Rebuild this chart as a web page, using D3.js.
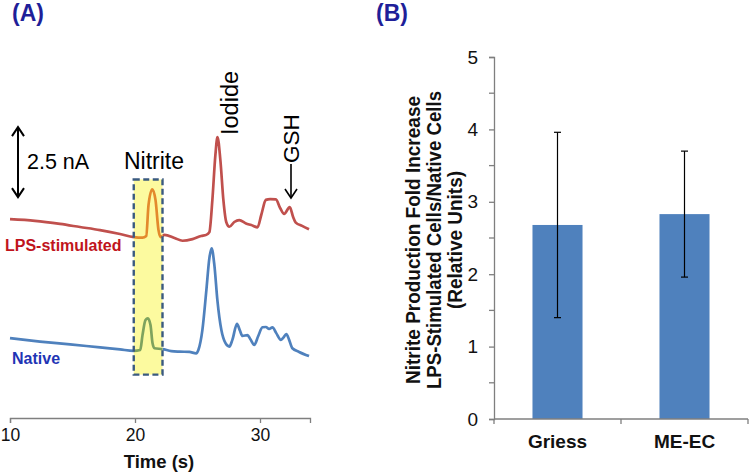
<!DOCTYPE html>
<html>
<head>
<meta charset="utf-8">
<script src="https://cdn.jsdelivr.net/npm/d3@7"></script>
<style>
  html, body { margin: 0; padding: 0; background: #fff; }
  svg { display: block; font-family: "Liberation Sans", Arial, sans-serif; }
</style>
</head>
<body>
<svg id="chart" width="750" height="474"></svg>
<script>
// ---------- Panel A data: chromatogram traces (time s, current nA) ----------
const lpsTime = [10.0, 12.0, 14.0, 15.6, 17.2, 18.8, 19.9, 20.6, 20.9, 21.08, 21.38, 21.64, 21.88, 22.04,
  22.36, 23.16, 23.8, 24.6, 25.29, 25.7, 25.95, 26.19, 26.43, 26.6, 26.83, 27.07, 27.3, 27.55, 27.94,
  28.34, 28.88, 29.3, 29.8, 30.1, 30.47, 30.81, 31.27, 31.61, 31.93, 32.38, 32.65, 32.86, 33.37, 33.92];
const lpsCurrent = [7.10, 7.04, 6.93, 6.82, 6.71, 6.57, 6.46, 6.44, 6.50, 7.60, 8.17, 7.79, 6.71, 6.46,
  6.54, 6.43, 6.33, 6.39, 6.50, 6.54, 6.64, 7.79, 9.39, 10.03, 9.21, 7.79, 7.00, 6.83, 7.00,
  7.07, 6.95, 6.89, 6.81, 7.25, 7.79, 7.82, 7.81, 7.50, 7.29, 7.53, 7.18, 6.98, 6.86, 6.74];

const nativeTime = [10.0, 12.4, 14.8, 17.2, 18.8, 19.9, 20.42, 20.6, 20.84, 21.03, 21.24, 21.4, 21.56,
  22.2, 22.9, 23.56, 24.35, 24.89, 25.07, 25.39, 25.71, 25.95, 26.13, 26.35, 26.59, 26.91, 27.23, 27.55,
  27.79, 28.16, 28.38, 28.6, 29.0, 29.22, 29.54, 29.86, 30.2, 30.47, 30.73, 31.0, 31.29, 31.67, 31.85,
  32.11, 32.33, 32.59, 33.13, 33.92];
const nativeCurrent = [2.85, 2.73, 2.63, 2.52, 2.45, 2.40, 2.43, 2.96, 3.50, 3.56, 3.32, 2.68, 2.49,
  2.46, 2.39, 2.37, 2.36, 2.31, 2.43, 3.14, 4.57, 5.71, 6.06, 5.46, 4.21, 3.14, 2.68, 2.55,
  2.79, 3.36, 3.14, 2.93, 2.96, 2.82, 2.61, 2.93, 3.24, 3.25, 3.18, 3.24, 3.04, 2.79, 2.86,
  3.00, 2.79, 2.49, 2.36, 2.21];

const timeTicks = [10, 20, 30];
const timeDomain = [10, 34];
const currentDomain = [0, 13];
const nitriteWindow = [19.9, 22.2];        // seconds
const nitriteWindowCurrent = [1.55, 8.52]; // nA
const scaleBarCurrent = [7.89, 10.39];     // 2.5 nA scale bar

// ---------- Panel B data ----------
const methods = ["Griess", "ME-EC"];
const foldIncrease = [2.68, 2.83];
const foldError = [1.28, 0.87];
const foldTicks = [0, 1, 2, 3, 4, 5];
const foldMinorTicks = [0.5, 1.5, 2.5, 3.5, 4.5];

const svg = d3.select("#chart");
const FONT = "'Liberation Sans', Arial, sans-serif";

// ================= Panel A =================
const xA = d3.scaleLinear().domain(timeDomain).range([10, 310]);
const yA = d3.scaleLinear().domain(currentDomain).range([418, 54]);

const gA = svg.append("g");

svg.append("text").attr("x", 12).attr("y", 21).text("(A)")
  .attr("font-size", 23).attr("font-weight", "bold").attr("fill", "#1f1f99");

// nitrite highlight box (fill)
const bx0 = xA(nitriteWindow[0]), bx1 = xA(nitriteWindow[1]);
const by0 = yA(nitriteWindowCurrent[1]), by1 = yA(nitriteWindowCurrent[0]);
gA.append("rect").attr("x", bx0).attr("y", by0).attr("width", bx1 - bx0).attr("height", by1 - by0)
  .attr("fill", "#fcfa9f");

const defs = svg.append("defs");
defs.append("clipPath").attr("id", "boxClip").append("rect")
  .attr("x", bx0).attr("y", 0).attr("width", bx1 - bx0).attr("height", 474);
defs.append("clipPath").attr("id", "outClip").append("path")
  .attr("d", `M0,0H${bx0}V474H0Z M${bx1},0H750V474H${bx1}Z`);

const line = d3.line().x(d => xA(d[0])).y(d => yA(d[1])).curve(d3.curveMonotoneX);
const lpsData = lpsTime.map((t, i) => [t, lpsCurrent[i]]);
const nativeData = nativeTime.map((t, i) => [t, nativeCurrent[i]]);

gA.append("path").datum(lpsData).attr("d", line).attr("fill", "none")
  .attr("stroke", "#c0504d").attr("stroke-width", 2.7).attr("clip-path", "url(#outClip)");
gA.append("path").datum(lpsData).attr("d", line).attr("fill", "none")
  .attr("stroke", "#e38a2c").attr("stroke-width", 2.7).attr("clip-path", "url(#boxClip)");
gA.append("path").datum(nativeData).attr("d", line).attr("fill", "none")
  .attr("stroke", "#4f81bd").attr("stroke-width", 2.7).attr("clip-path", "url(#outClip)");
gA.append("path").datum(nativeData).attr("d", line).attr("fill", "none")
  .attr("stroke", "#7ea35e").attr("stroke-width", 2.7).attr("clip-path", "url(#boxClip)");

// dashed border
gA.append("rect").attr("x", bx0).attr("y", by0).attr("width", bx1 - bx0).attr("height", by1 - by0)
  .attr("fill", "none").attr("stroke", "#3a5a80").attr("stroke-width", 2.4).attr("stroke-dasharray", "6,3.5");

// x axis A
const axA = gA.append("g").attr("transform", "translate(0,418)")
  .call(d3.axisBottom(xA).tickValues(timeTicks).tickSize(5).tickPadding(6).tickFormat(d3.format("d")));
axA.select(".domain").attr("stroke", "#7f7f7f").attr("stroke-width", 1.3);
axA.selectAll(".tick line").attr("stroke", "#7f7f7f").attr("stroke-width", 1.3);
axA.selectAll(".tick text").attr("font-size", 17.5).attr("font-family", FONT).attr("fill", "#111");
gA.append("text").attr("x", 159).attr("y", 468).attr("text-anchor", "middle")
  .attr("font-size", 18.5).attr("font-weight", "bold").attr("fill", "#111").text("Time (s)");

// scale bar arrow
function chevron(x, y, dir) { // dir -1 = up, 1 = down
  return `M${x - 6},${y - dir * 9}L${x},${y}L${x + 6},${y - dir * 9}`;
}
const sbx = 18, sbTop = yA(scaleBarCurrent[1]), sbBot = yA(scaleBarCurrent[0]);
gA.append("line").attr("x1", sbx).attr("x2", sbx).attr("y1", sbTop).attr("y2", sbBot)
  .attr("stroke", "#000").attr("stroke-width", 2);
gA.append("path").attr("d", chevron(sbx, sbTop, -1) + chevron(sbx, sbBot, 1))
  .attr("fill", "none").attr("stroke", "#000").attr("stroke-width", 2);
gA.append("text").attr("x", 27).attr("y", 169).attr("font-size", 21.5).attr("fill", "#000").text("2.5 nA");

// annotations
gA.append("text").attr("x", 154).attr("y", 169).attr("text-anchor", "middle")
  .attr("font-size", 23).attr("fill", "#000").text("Nitrite");
gA.append("text").attr("transform", "translate(238,135) rotate(-90)")
  .attr("font-size", 23.5).attr("fill", "#000").text("Iodide");
gA.append("text").attr("transform", "translate(299,163) rotate(-90)")
  .attr("font-size", 22.5).attr("fill", "#000").text("GSH");
gA.append("line").attr("x1", 291).attr("x2", 291).attr("y1", 164).attr("y2", 198)
  .attr("stroke", "#000").attr("stroke-width", 1.6);
gA.append("path").attr("d", chevron(291, 198, 1)).attr("fill", "none")
  .attr("stroke", "#000").attr("stroke-width", 1.6);

gA.append("text").attr("x", 5).attr("y", 251).attr("font-size", 16).attr("font-weight", "bold")
  .attr("fill", "#c0141c").text("LPS-stimulated");
gA.append("text").attr("x", 12).attr("y", 364).attr("font-size", 16).attr("font-weight", "bold")
  .attr("fill", "#1f35b5").text("Native");

// ================= Panel B =================
svg.append("text").attr("x", 376).attr("y", 21).text("(B)")
  .attr("font-size", 23).attr("font-weight", "bold").attr("fill", "#1f1f99");

const xB = d3.scaleBand().domain(methods).range([494, 748]).paddingInner(0.606).paddingOuter(0.303);
const yB = d3.scaleLinear().domain([0, 5]).range([419, 57]);
const gB = svg.append("g");

gB.selectAll("rect.bar").data(methods).join("rect").attr("class", "bar")
  .attr("x", d => xB(d)).attr("width", xB.bandwidth())
  .attr("y", (d, i) => yB(foldIncrease[i])).attr("height", (d, i) => yB(0) - yB(foldIncrease[i]))
  .attr("fill", "#4f81bd");

// error bars
methods.forEach((m, i) => {
  const cx = xB(m) + xB.bandwidth() / 2;
  const yt = yB(foldIncrease[i] + foldError[i]), yb = yB(foldIncrease[i] - foldError[i]);
  gB.append("line").attr("x1", cx).attr("x2", cx).attr("y1", yt).attr("y2", yb).attr("stroke", "#000").attr("stroke-width", 1.2);
  [yt, yb].forEach(y => gB.append("line").attr("x1", cx - 3.5).attr("x2", cx + 3.5).attr("y1", y).attr("y2", y)
    .attr("stroke", "#000").attr("stroke-width", 1.2));
});

// y axis
const ayB = gB.append("g").attr("transform", "translate(494,0)")
  .call(d3.axisLeft(yB).tickValues(foldTicks).tickSize(5).tickPadding(11).tickFormat(d3.format("d")));
ayB.select(".domain").attr("stroke", "#7f7f7f").attr("stroke-width", 1.3);
ayB.selectAll(".tick line").attr("stroke", "#7f7f7f").attr("stroke-width", 1.3);
ayB.selectAll(".tick text").attr("font-size", 19).attr("font-family", FONT).attr("fill", "#111");
gB.append("g").selectAll("line").data(foldMinorTicks).join("line")
  .attr("x1", 489).attr("x2", 494).attr("y1", d => yB(d)).attr("y2", d => yB(d))
  .attr("stroke", "#7f7f7f").attr("stroke-width", 1.3);

// x axis B
const step = xB.step();
const xStart = xB(methods[0]) - step * xB.paddingInner() / 2;
gB.append("line").attr("x1", 494).attr("x2", 748).attr("y1", 419).attr("y2", 419)
  .attr("stroke", "#7f7f7f").attr("stroke-width", 1.3);
gB.selectAll("line.xt").data(d3.range(methods.length + 1)).join("line").attr("class", "xt")
  .attr("x1", i => xStart + i * step).attr("x2", i => xStart + i * step)
  .attr("y1", 419).attr("y2", 424).attr("stroke", "#7f7f7f").attr("stroke-width", 1.3);
gB.selectAll("text.cat").data(methods).join("text").attr("class", "cat")
  .attr("x", d => xB(d) + xB.bandwidth() / 2).attr("y", 448).attr("text-anchor", "middle")
  .attr("font-size", 19).attr("font-weight", "bold").attr("fill", "#111").text(d => d);

// y title
const titleLines = ["Nitrite Production Fold Increase", "LPS-Stimulated Cells/Native Cells", "(Relative Units)"];
const titleLengths = [288, 298, 138];
titleLines.forEach((t, i) => {
  gB.append("text").attr("transform", `translate(${420 + i * 21},240) rotate(-90)`)
    .attr("text-anchor", "middle").attr("font-size", 20.5).attr("font-weight", "bold")
    .attr("textLength", titleLengths[i]).attr("lengthAdjust", "spacingAndGlyphs")
    .attr("fill", "#111").text(t);
});
</script>
</body>
</html>
